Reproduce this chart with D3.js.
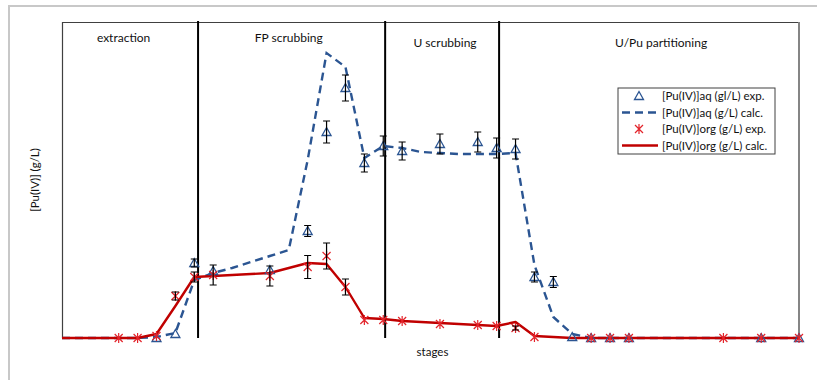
<!DOCTYPE html>
<html>
<head>
<meta charset="utf-8">
<script src="https://cdn.jsdelivr.net/npm/d3@7"></script>
<style>
  body { margin: 0; background: #fff; }
  svg { font-family: Lato, "Noto Sans", sans-serif; }
</style>
</head>
<body>
<div class="chart"></div>
<script>
const w = 817;
const h = 380;
const margin = { left: 62, right: 18, top: 22, bottom: 42 };

// stage numbers on the x axis
const stages = d3.range(0, 40);

// calculated profiles, one value per stage (g/L)
const aqCalc = [0, 0, 0, 0, 0, 0.01, 0.05, 0.58, 0.65, 0.70, 0.76, 0.82, 0.88, 1.78, 2.85, 2.71, 1.80, 1.92, 1.90, 1.86,
  1.85, 1.84, 1.84, 1.84, 1.85, 0.73, 0.21, 0.04, 0, 0, 0, 0, 0, 0, 0, 0, 0, 0, 0, 0];
const orgCalc = [0, 0, 0, 0, 0, 0.04, 0.32, 0.61, 0.62, 0.63, 0.64, 0.65, 0.70, 0.75, 0.74, 0.51, 0.20, 0.19, 0.17, 0.16,
  0.15, 0.14, 0.13, 0.12, 0.16, 0.02, 0.01, 0, 0, 0, 0, 0, 0, 0, 0, 0, 0, 0, 0, 0];

// measured points
const aqExpStages = [5, 6, 7, 8, 11, 13, 14, 15, 16, 17, 18, 20, 22, 23, 24, 25, 26, 27, 28, 29, 30, 37, 39];
const aqExpValues = [0, 0.04, 0.75, 0.67, 0.68, 1.07, 2.06, 2.50, 1.75, 1.92, 1.87, 1.94, 1.96, 1.90, 1.89, 0.61, 0.56, 0.01, 0, 0, 0, 0, 0];
const aqExpErr = [0, 0, 0.04, 0, 0, 0.055, 0.11, 0.13, 0.09, 0.10, 0.09, 0.10, 0.10, 0.10, 0.10, 0.05, 0.055, 0, 0, 0, 0, 0, 0];

const orgExpStages = [3, 4, 5, 6, 7, 8, 11, 13, 14, 15, 16, 17, 18, 20, 22, 23, 24, 25, 28, 29, 30, 35, 37, 39];
const orgExpValues = [0, 0, 0.02, 0.42, 0.61, 0.63, 0.62, 0.71, 0.82, 0.51, 0.18, 0.18, 0.17, 0.14, 0.13, 0.12, 0.10, 0.01, 0, 0, 0, 0, 0, 0];
const orgExpErr = [0, 0, 0, 0.04, 0.05, 0.10, 0.10, 0.115, 0.13, 0.08, 0, 0, 0, 0, 0, 0, 0.02, 0, 0, 0, 0, 0, 0, 0];

// section boundaries and labels (in stage units)
const sectionBounds = [7.2, 17.1, 23.13];
const sectionNames = ["extraction", "FP scrubbing", "U scrubbing", "U/Pu partitioning"];
const sectionLabelAt = [3.26, 12.0, 20.27, 31.7];

const legendNames = ["[Pu(IV)]aq (gl/L) exp.", "[Pu(IV)]aq (g/L) calc.", "[Pu(IV)]org (g/L) exp.", "[Pu(IV)]org (g/L) calc."];

const blue = "#2b5592";
const red = "#c00000";
const star = "#e3242b";

const svg = d3.select(".chart").append("svg").attr("width", w).attr("height", h);

// outer chart frame
svg.append("rect")
  .attr("x", 9).attr("y", 6)
  .attr("width", 900).attr("height", 500)
  .attr("fill", "none").attr("stroke", "#c8c8c8").attr("stroke-width", 2);

const xScale = d3.scaleLinear().domain([0, 39]).range([margin.left, w - margin.right]);
const yScale = d3.scaleLinear().domain([0, 3.16]).range([h - margin.bottom, margin.top]);

const x0 = xScale(0), x1 = xScale(39), yTop = yScale(3.16), yBot = yScale(0);

// plot area border
svg.append("line").attr("x1", x0).attr("x2", x1).attr("y1", yTop + 0.5).attr("y2", yTop + 0.5)
  .attr("stroke", "#404040").attr("stroke-width", 1.2);
svg.append("line").attr("x1", x0 + 0.5).attr("x2", x0 + 0.5).attr("y1", yTop).attr("y2", yBot)
  .attr("stroke", "#404040").attr("stroke-width", 1.2);
svg.append("line").attr("x1", x1).attr("x2", x1).attr("y1", yTop).attr("y2", yBot)
  .attr("stroke", "#858585").attr("stroke-width", 2);

// section separators
svg.selectAll(".sep")
  .data(sectionBounds)
  .enter()
  .append("line")
  .attr("class", "sep")
  .attr("x1", (d) => xScale(d)).attr("x2", (d) => xScale(d))
  .attr("y1", yTop - 1).attr("y2", yBot)
  .attr("stroke", "#000").attr("stroke-width", 2);

svg.selectAll(".sec")
  .data(sectionNames)
  .enter()
  .append("text")
  .attr("class", "sec")
  .attr("x", (d, i) => xScale(sectionLabelAt[i]))
  .attr("y", (d, i) => (i < 2 ? 42 : 47))
  .attr("text-anchor", "middle")
  .attr("font-size", 12)
  .attr("fill", "#111")
  .text((d) => d);

// lines
const line = d3.line().x((d, i) => xScale(stages[i])).y((d) => yScale(d));

svg.append("path").datum(aqCalc)
  .attr("d", line).attr("fill", "none")
  .attr("stroke", blue).attr("stroke-width", 2.4)
  .attr("stroke-dasharray", "8,5");

svg.append("path").datum(orgCalc)
  .attr("d", line).attr("fill", "none")
  .attr("stroke", red).attr("stroke-width", 2.4)
  .attr("stroke-linejoin", "round");

// markers
const triPath = "M0,-4.5L4.5,3.5L-4.5,3.5Z";
const starPath = "M-4,-4L4,4M-4,4L4,-4M0,-5L0,5";

svg.selectAll(".tri")
  .data(aqExpStages)
  .enter()
  .append("path")
  .attr("class", "tri")
  .attr("d", triPath)
  .attr("transform", (d, i) => `translate(${xScale(d)},${yScale(aqExpValues[i])})`)
  .attr("fill", "none").attr("stroke", blue).attr("stroke-width", 1.3);

svg.selectAll(".star")
  .data(orgExpStages)
  .enter()
  .append("path")
  .attr("class", "star")
  .attr("d", starPath)
  .attr("transform", (d, i) => `translate(${xScale(d)},${yScale(orgExpValues[i])})`)
  .attr("fill", "none").attr("stroke", star).attr("stroke-width", 1.2);

// error bars
function errorBars(cls, xs, vals, errs) {
  const g = svg.selectAll("." + cls)
    .data(xs.map((s, i) => [s, vals[i], errs[i]]).filter((d) => d[2] > 0))
    .enter()
    .append("path")
    .attr("class", cls)
    .attr("d", (d) => {
      const cx = xScale(d[0]);
      const ya = yScale(d[1] + d[2]);
      const yb = yScale(d[1] - d[2]);
      return `M${cx - 3.5},${ya}H${cx + 3.5}M${cx},${ya}V${yb}M${cx - 3.5},${yb}H${cx + 3.5}`;
    })
    .attr("fill", "none").attr("stroke", "#000").attr("stroke-width", 1.2);
  return g;
}
errorBars("errAq", aqExpStages, aqExpValues, aqExpErr);
errorBars("errOrg", orgExpStages, orgExpValues, orgExpErr);

// axis titles
svg.append("text")
  .attr("x", (x0 + x1) / 2 + 2).attr("y", 356)
  .attr("text-anchor", "middle").attr("font-size", 11.5).attr("fill", "#111")
  .text("stages");

svg.append("text")
  .attr("transform", `translate(39,${(yTop + yBot) / 2}) rotate(-90)`)
  .attr("text-anchor", "middle").attr("font-size", 11.5).attr("fill", "#111")
  .text("[Pu(IV)] (g/L)");

// legend
const legend = svg.append("g").attr("transform", "translate(618,88)");
legend.append("rect")
  .attr("width", 157).attr("height", 66)
  .attr("fill", "#fff").attr("stroke", "#404040").attr("stroke-width", 1);

const rowY = (i) => 8 + i * 16.5;
legend.selectAll(".lt")
  .data(legendNames)
  .enter()
  .append("text")
  .attr("class", "lt")
  .attr("x", 44).attr("y", (d, i) => rowY(i) + 4)
  .attr("font-size", 11.5).attr("fill", "#111")
  .text((d) => d);

legend.append("path").attr("d", triPath)
  .attr("transform", `translate(21,${rowY(0)})`)
  .attr("fill", "none").attr("stroke", blue).attr("stroke-width", 1.3);
legend.append("line").attr("x1", 4).attr("x2", 40).attr("y1", rowY(1)).attr("y2", rowY(1))
  .attr("stroke", blue).attr("stroke-width", 2.4).attr("stroke-dasharray", "8,5");
legend.append("path").attr("d", starPath)
  .attr("transform", `translate(21,${rowY(2)})`)
  .attr("fill", "none").attr("stroke", star).attr("stroke-width", 1.2);
legend.append("line").attr("x1", 4).attr("x2", 40).attr("y1", rowY(3)).attr("y2", rowY(3))
  .attr("stroke", red).attr("stroke-width", 2.4);
</script>
</body>
</html>
